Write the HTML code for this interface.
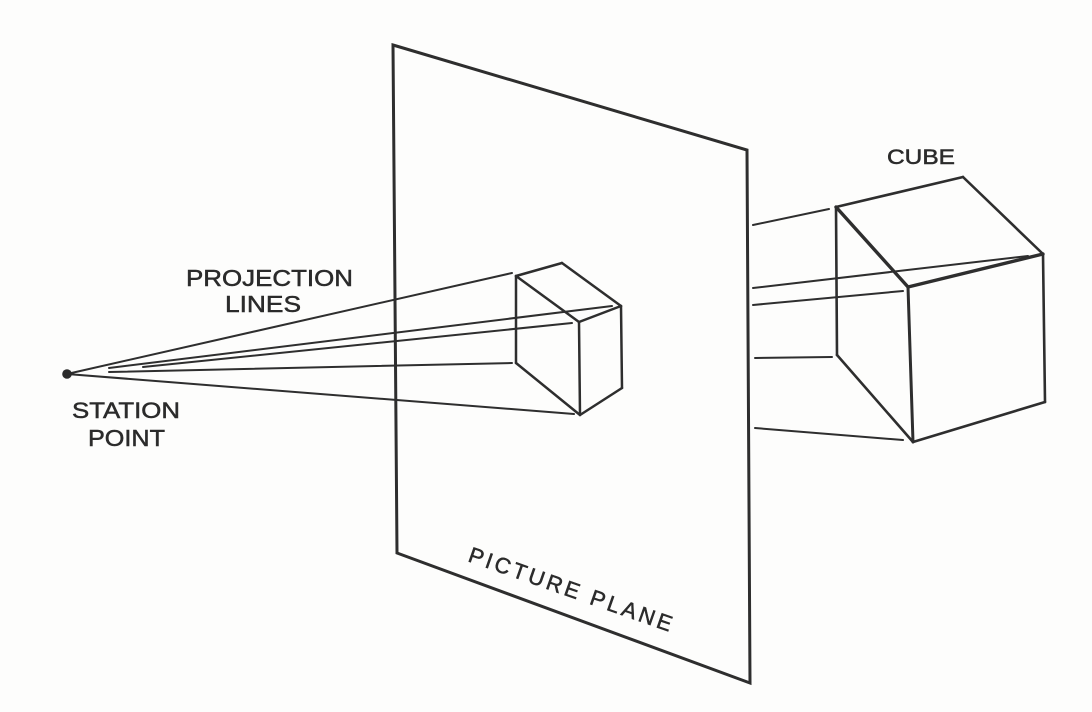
<!DOCTYPE html>
<html>
<head>
<meta charset="utf-8">
<style>
  html, body { margin:0; padding:0; background:#fdfdfc; }
  svg { display:block; }
  text { font-family: "Liberation Sans", "DejaVu Sans", sans-serif; fill:#2b2b2b; stroke:#2b2b2b; stroke-width:0.5; }
</style>
</head>
<body>
<svg width="1092" height="712" viewBox="0 0 1092 712" xmlns="http://www.w3.org/2000/svg">
  <rect x="0" y="0" width="1092" height="712" fill="#fdfdfc"/>

  <!-- Picture plane -->
  <polygon points="393,45 747,150 750,683 397,553" fill="none" stroke="#2e2e2e" stroke-width="3" stroke-linejoin="miter"/>

  <!-- Projection lines (left side) -->
  <g stroke="#2e2e2e" stroke-width="2" stroke-linecap="round" fill="none">
    <line x1="67" y1="374" x2="512" y2="273"/>
    <line x1="109" y1="368" x2="612" y2="306"/>
    <line x1="143" y1="367" x2="572" y2="323"/>
    <line x1="109" y1="372" x2="512" y2="363"/>
    <line x1="67" y1="374" x2="574" y2="414"/>
  </g>
  <circle cx="67" cy="374" r="4.8" fill="#2a2a2a"/>

  <!-- Small cube -->
  <g stroke="#2e2e2e" stroke-width="2.5" stroke-linecap="round" stroke-linejoin="round" fill="none">
    <line x1="516" y1="276" x2="562" y2="263"/>
    <line x1="562" y1="263" x2="621" y2="306"/>
    <line x1="516" y1="276" x2="579" y2="322"/>
    <line x1="579" y1="322" x2="621" y2="306"/>
    <line x1="516" y1="276" x2="516" y2="363"/>
    <line x1="516" y1="363" x2="580" y2="415"/>
    <line x1="579" y1="322" x2="580" y2="415"/>
    <line x1="621" y1="306" x2="622" y2="388"/>
    <line x1="580" y1="415" x2="622" y2="388"/>
  </g>

  <!-- Projection lines (right side) -->
  <g stroke="#2e2e2e" stroke-width="2" stroke-linecap="round" fill="none">
    <line x1="753" y1="225" x2="829" y2="209"/>
    <line x1="753" y1="288" x2="1028" y2="256"/>
    <line x1="753" y1="305" x2="903" y2="291"/>
    <line x1="755" y1="358" x2="832" y2="357"/>
    <line x1="755" y1="428" x2="903" y2="440"/>
  </g>

  <!-- Large cube -->
  <g stroke="#2e2e2e" stroke-width="2.6" stroke-linecap="round" stroke-linejoin="round" fill="none">
    <line x1="836" y1="207" x2="963" y2="177"/>
    <line x1="963" y1="177" x2="1043" y2="254"/>
    <line x1="836" y1="207" x2="908" y2="287" stroke-width="3.4"/>
    <line x1="908" y1="287" x2="1043" y2="254" stroke-width="3.4"/>
    <line x1="836" y1="207" x2="837" y2="355"/>
    <line x1="837" y1="355" x2="913" y2="442"/>
    <line x1="908" y1="287" x2="913" y2="442" stroke-width="3"/>
    <line x1="1043" y1="254" x2="1045" y2="402"/>
    <line x1="913" y1="442" x2="1045" y2="402"/>
  </g>

  <!-- Labels -->
  <text x="186" y="286" font-size="23" textLength="167" lengthAdjust="spacingAndGlyphs">PROJECTION</text>
  <text x="225" y="312" font-size="23" textLength="76" lengthAdjust="spacingAndGlyphs">LINES</text>
  <text x="72" y="418" font-size="22" textLength="108" lengthAdjust="spacingAndGlyphs">STATION</text>
  <text x="88" y="446" font-size="23" textLength="77" lengthAdjust="spacingAndGlyphs">POINT</text>
  <text x="887" y="164" font-size="21" textLength="68" lengthAdjust="spacingAndGlyphs">CUBE</text>
  <text x="467" y="561" font-size="22" textLength="214" lengthAdjust="spacing" transform="rotate(19.3 467 561)">PICTURE PLANE</text>
</svg>
</body>
</html>
